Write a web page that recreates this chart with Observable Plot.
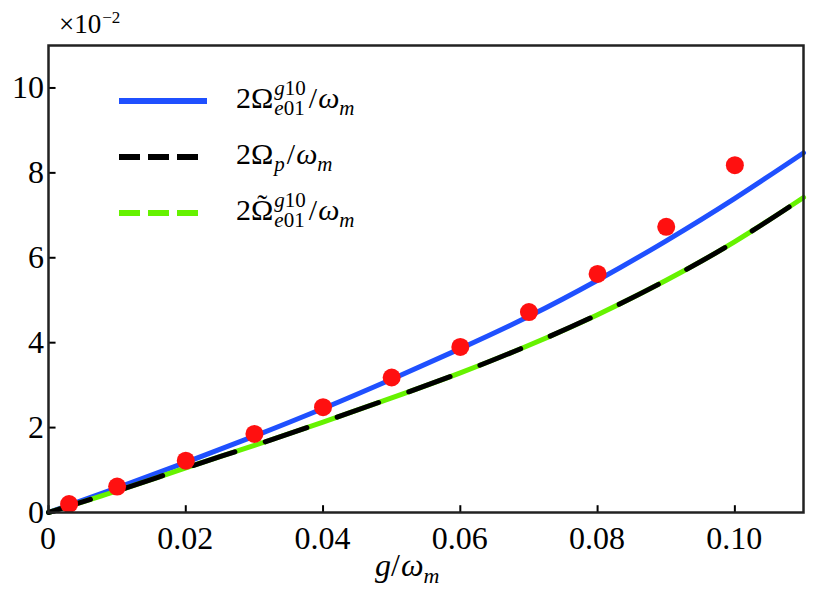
<!DOCTYPE html>
<html><head><meta charset="utf-8">
<script src="https://cdn.jsdelivr.net/npm/d3@7"></script>
<script src="https://cdn.jsdelivr.net/npm/@observablehq/plot@0.6"></script>
<style>body{margin:0;background:#fff;} #chart{position:relative;width:814px;height:604px;} #chart svg{display:block} #overlay{position:absolute;left:0;top:0;}</style>
</head><body><div id="chart"></div>
<script>
// curves (values in units of 1e-2)
const gCurve = [0, 0.01, 0.02, 0.03, 0.04, 0.05, 0.06, 0.07, 0.08, 0.09, 0.10, 0.11];
const blueVals = [0, 0.58, 1.18, 1.80, 2.45, 3.14, 3.86, 4.62, 5.47, 6.40, 7.40, 8.47];
const blackVals = [0, 0.51, 1.05, 1.58, 2.13, 2.70, 3.29, 3.94, 4.66, 5.47, 6.38, 7.42];
const greenVals = [0, 0.51, 1.05, 1.58, 2.13, 2.70, 3.29, 3.94, 4.66, 5.47, 6.38, 7.42];
// red dots
const gDots = [0.003, 0.01, 0.02, 0.03, 0.04, 0.05, 0.06, 0.07, 0.08, 0.09, 0.10];
const dotVals = [0.20, 0.61, 1.22, 1.85, 2.48, 3.18, 3.90, 4.72, 5.62, 6.73, 8.18];
// ticks
const xTicks = [0, 0.02, 0.04, 0.06, 0.08, 0.10];
const xTickLabels = ["0", "0.02", "0.04", "0.06", "0.08", "0.10"];
const yTicks = [0, 2, 4, 6, 8, 10];
const yTickLabels = ["0", "2", "4", "6", "8", "10"];

const FONT = "Liberation Serif";
const curveData = gCurve.map((g, i) => ({g, blue: blueVals[i], black: blackVals[i], green: greenVals[i]}));
const dots = gDots.map((g, i) => ({g, v: dotVals[i]}));

const plot = Plot.plot({
  width: 814, height: 604,
  marginLeft: 48, marginRight: 11, marginTop: 45, marginBottom: 92,
  style: {background: "#fff"},
  x: {domain: [0, 0.11], axis: null},
  y: {domain: [0, 11], axis: null},
  marks: [
    Plot.line(curveData, {x: "g", y: "blue", stroke: "#1f50ff", strokeWidth: 5, curve: "natural"}),
    Plot.line(curveData, {x: "g", y: "green", stroke: "#66f200", strokeWidth: 5, curve: "natural"}),
    Plot.line(curveData, {x: "g", y: "black", stroke: "#000", strokeWidth: 5, strokeDasharray: "44,32", curve: "natural"}),
    Plot.dot(dots, {x: "g", y: "v", r: 9, fill: "#ff1010", stroke: "none"}),
    Plot.ruleX(xTicks, {y1: 0, y2: 0.16, stroke: "#000", strokeWidth: 2}),
    Plot.ruleY(yTicks, {x1: 0, x2: 0.0011, stroke: "#000", strokeWidth: 2}),
    Plot.frame({stroke: "#222", strokeWidth: 2.5})
  ]
});
const chart = document.getElementById("chart");
chart.appendChild(plot);
const xs = plot.scale("x"), ys = plot.scale("y");

// text overlay (tick labels, legend, axis label) positioned via Plot's scales
const ov = d3.select(chart).append("svg").attr("id", "overlay")
  .attr("width", 814).attr("height", 604);

function piece(x, y, t, fs, it, anchor) {
  const el = ov.append("text").attr("x", x).attr("y", y)
    .attr("font-family", FONT).attr("font-size", fs).attr("fill", "#000").text(t);
  if (it) el.attr("font-style", "italic");
  if (anchor) el.attr("text-anchor", anchor);
  return el.node().getComputedTextLength();
}
function run(x, y, segs, fs) {
  let cx = x;
  for (const s of segs) cx += piece(cx, y, s[0], fs, s[1]);
  return cx - x;
}

// tick labels
xTicks.forEach((v, i) => piece(xs.apply(v), ys.apply(0) + 37, xTickLabels[i], 32, false, "middle"));
yTicks.forEach((v, i) => piece(xs.apply(0) - 4, ys.apply(v) + 11, yTickLabels[i], 32, false, "end"));

// legend
const Lfs = 30, Sfs = 21;
function legendLabel(x, y, tilde, kind) {
  let cx = x;
  cx += piece(cx, y, "2", Lfs, false);
  const wO = piece(cx, y, "Ω", Lfs, false);
  if (tilde) piece(cx + wO / 2, y - 5, "˜", Lfs, false, "middle");
  cx += wO;
  if (kind === "e01") {
    const w1 = run(cx + 1, y - 13, [["g", true], ["10", false]], Sfs);
    const w2 = run(cx + 1, y + 7, [["e", true], ["01", false]], Sfs);
    cx += Math.max(w1, w2) + 4;
  } else {
    cx += run(cx + 1, y + 7, [["p", true]], Sfs) + 3;
  }
  cx += piece(cx, y, "/", Lfs, false) + 1;
  cx += piece(cx, y, "ω", Lfs, true);
  piece(cx, y + 7, "m", Sfs, true);
}
ov.append("line").attr("x1", 119).attr("x2", 207).attr("y1", 101).attr("y2", 101)
  .attr("stroke", "#1f50ff").attr("stroke-width", 6);
ov.append("line").attr("x1", 119).attr("x2", 200).attr("y1", 157).attr("y2", 157)
  .attr("stroke", "#000").attr("stroke-width", 6).attr("stroke-dasharray", "21,8");
ov.append("line").attr("x1", 119).attr("x2", 200).attr("y1", 213).attr("y2", 213)
  .attr("stroke", "#66f200").attr("stroke-width", 6).attr("stroke-dasharray", "21,8");
legendLabel(236, 108, false, "e01");
legendLabel(236, 164, false, "p");
legendLabel(236, 220, true, "e01");

// x label
{
  let cx = 375, y = 576;
  cx += piece(cx, y, "g", 32, true);
  cx += piece(cx, y, "/", 32, false) + 1;
  cx += piece(cx, y, "ω", 32, true);
  piece(cx, y + 7, "m", 22, true);
}
// exponent
{
  let cx = 59;
  cx += piece(cx, 33, "×10", 27, false);
  piece(cx + 1, 23, "−2", 17, false);
}
</script></body></html>
